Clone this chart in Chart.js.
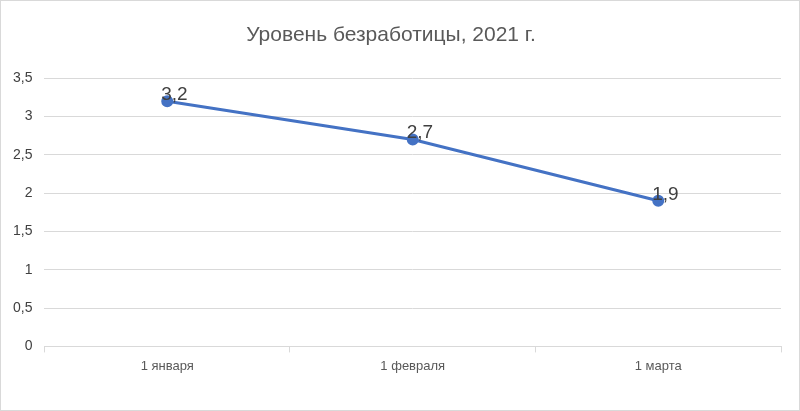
<!DOCTYPE html>
<html>
<head>
<meta charset="utf-8">
<script src="https://cdn.jsdelivr.net/npm/chart.js@4/dist/chart.umd.min.js"></script>
<style>
  html, body { margin: 0; padding: 0; background: #fff; }
  #box { width: 798px; height: 409px; border: 1px solid #d9d9d9; }
</style>
</head>
<body>
<div id="box"><canvas id="c"></canvas></div>
<script>
// данные графика
const categories = ["1 января", "1 февраля", "1 марта"];
const values = [3.2, 2.7, 1.9];
const yTicks = [0, 0.5, 1, 1.5, 2, 2.5, 3, 3.5];

const fmt = v => String(v).replace('.', ',');

// подписи значений над точками
const pointLabels = {
    id: 'pointLabels',
    afterDatasetsDraw(chart) {
        const ctx = chart.ctx;
        const meta = chart.getDatasetMeta(0);
        ctx.save();
        ctx.font = '19px "Liberation Sans", Arial, sans-serif';
        ctx.fillStyle = '#404040';
        ctx.textAlign = 'left';
        ctx.textBaseline = 'bottom';
        meta.data.forEach((pt, i) => {
            ctx.fillText(fmt(values[i]), pt.x - 6, pt.y + 3);
        });
        ctx.restore();
    }
};

new Chart(document.getElementById('c'), {
    type: 'line',
    data: {
        labels: categories,
        datasets: [{
            data: values,
            borderColor: '#4472c4',
            backgroundColor: '#4472c4',
            borderWidth: 3,
            pointRadius: 4.5,
            pointHoverRadius: 4.5,
            tension: 0,
        }]
    },
    options: {
        responsive: true,
        maintainAspectRatio: false,
        animation: false,
        layout: { padding: { left: 0, right: 18, top: 14, bottom: 30 } },
        plugins: {
            legend: { display: false },
            tooltip: { enabled: false },
            title: {
                display: true,
                text: 'Уровень безработицы, 2021 г.',
                color: '#595959',
                font: { size: 21, family: '"Liberation Sans", Arial, sans-serif', weight: 'normal' },
                padding: { top: 8, bottom: 30 },
            },
        },
        scales: {
            x: {
                offset: true,
                grid: { offset: true, drawOnChartArea: false, color: '#d9d9d9', tickLength: 6 },
                border: { color: '#d9d9d9' },
                ticks: {
                    color: '#595959',
                    font: { size: 13, family: '"Liberation Sans", Arial, sans-serif' },
                    padding: 6,
                },
            },
            y: {
                min: 0,
                max: 3.5,
                afterBuildTicks: axis => { axis.ticks = yTicks.map(v => ({ value: v })); },
                grid: { color: '#d9d9d9', drawTicks: false },
                border: { display: false },
                ticks: {
                    color: '#404040',
                    font: { size: 14, family: '"Liberation Sans", Arial, sans-serif' },
                    padding: 12,
                    callback: v => fmt(v),
                },
            },
        },
    },
    plugins: [pointLabels],
});
</script>
</body>
</html>
